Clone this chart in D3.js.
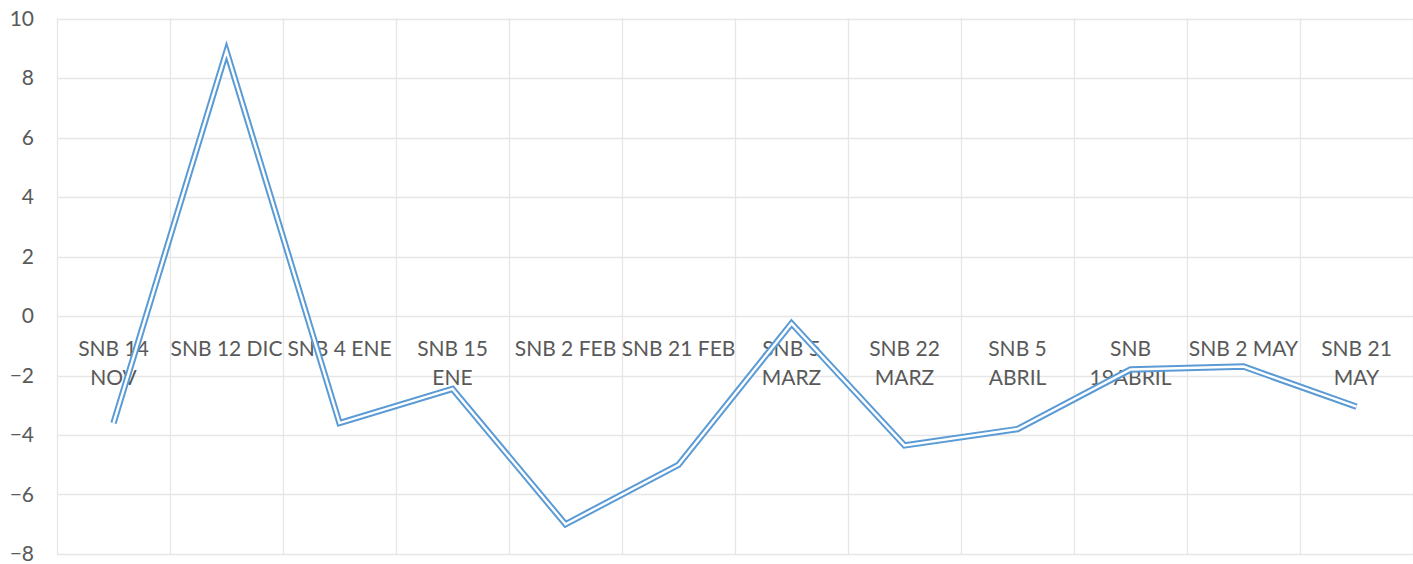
<!DOCTYPE html>
<html>
<head>
<meta charset="utf-8">
<script src="https://cdn.jsdelivr.net/npm/d3@7"></script>
<style>
  body { margin: 0; background: #fff; }
  text { font-family: Lato, "Liberation Sans", sans-serif; fill: #595959; }
</style>
</head>
<body>
<svg width="1413" height="564"></svg>
<script>
// data
const categories = [
  "SNB 14\nNOV", "SNB 12 DIC", "SNB 4 ENE", "SNB 15\nENE", "SNB 2 FEB", "SNB 21 FEB",
  "SNB 5\nMARZ", "SNB 22\nMARZ", "SNB 5\nABRIL", "SNB\n19ABRIL", "SNB 2 MAY", "SNB 21\nMAY"
];
const values = [-3.6, 8.9, -3.6, -2.45, -7.0, -5.0, -0.25, -4.35, -3.8, -1.8, -1.7, -3.05];
const yTicks = [-8, -6, -4, -2, 0, 2, 4, 6, 8, 10];

const svg = d3.select("svg");
const plotLeft = 57, plotRight = 1413, plotTop = 18.5, plotBottom = 554;

const x = d3.scaleBand().domain(categories).range([plotLeft, plotRight]);
const y = d3.scaleLinear().domain([-8, 10]).range([plotBottom, plotTop]);

// horizontal gridlines
svg.append("g")
  .selectAll("line")
  .data(yTicks)
  .enter()
  .append("line")
  .attr("x1", plotLeft)
  .attr("x2", plotRight)
  .attr("y1", (d) => Math.round(y(d)) + 0.5)
  .attr("y2", (d) => Math.round(y(d)) + 0.5)
  .attr("stroke", "#e6e6e6")
  .attr("stroke-width", 1.3);

// vertical gridlines on category boundaries
const bounds = categories.map((c) => x(c)).concat([plotRight]);
svg.append("g")
  .selectAll("line")
  .data(bounds)
  .enter()
  .append("line")
  .attr("x1", (d) => Math.round(d) + 0.5)
  .attr("x2", (d) => Math.round(d) + 0.5)
  .attr("y1", plotTop)
  .attr("y2", plotBottom)
  .attr("stroke", "#e6e6e6")
  .attr("stroke-width", 1.3);

// y axis labels
const yAxis = d3.axisLeft(y).tickValues(yTicks).tickSize(0).tickPadding(0);
const ga = svg.append("g").attr("transform", "translate(34,0)").call(yAxis);
ga.select(".domain").remove();
ga.selectAll("text")
  .style("font-family", "Lato, 'Liberation Sans', sans-serif")
  .style("font-size", "21px")
  .attr("fill", "#595959");

// category labels, sitting below the zero line
const lab = svg.append("g")
  .selectAll("text")
  .data(categories)
  .enter()
  .append("text")
  .attr("text-anchor", "middle")
  .style("font-size", "21px")
  .attr("x", (d) => x(d) + x.bandwidth() / 2)
  .attr("y", y(0) + 40);
lab.selectAll("tspan")
  .data((d) => d.split("\n"))
  .enter()
  .append("tspan")
  .attr("x", function () { return this.parentNode.getAttribute("x"); })
  .attr("dy", (d, i) => (i === 0 ? 0 : 29))
  .text((d) => d);

// double line: wide blue stroke with a white core
const line = d3.line()
  .x((d, i) => x(categories[i]) + x.bandwidth() / 2)
  .y((d) => y(d));

svg.append("path")
  .datum(values)
  .attr("d", line)
  .attr("fill", "none")
  .attr("stroke", "#5b9bd5")
  .attr("stroke-width", 6.4)
  .attr("stroke-linejoin", "miter")
  .attr("stroke-miterlimit", 20);

svg.append("path")
  .datum(values)
  .attr("d", line)
  .attr("fill", "none")
  .attr("stroke", "#ffffff")
  .attr("stroke-width", 2.4)
  .attr("stroke-linejoin", "miter")
  .attr("stroke-miterlimit", 20);
</script>
</body>
</html>
